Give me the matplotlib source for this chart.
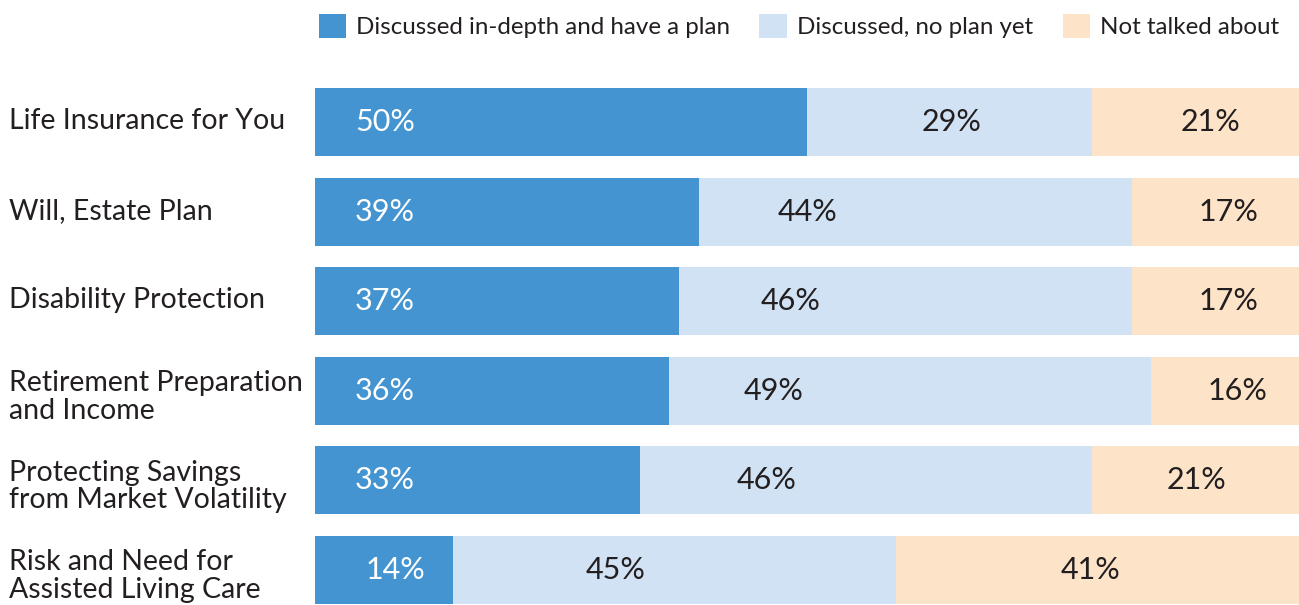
import numpy as np
import matplotlib.pyplot as plt
from matplotlib.patches import Patch

plt.rcParams['font.family'] = ['Lato', 'DejaVu Sans']

categories = ["Life Insurance for You",
              "Will, Estate Plan",
              "Disability Protection",
              "Retirement Preparation\nand Income",
              "Protecting Savings\nfrom Market Volatility",
              "Risk and Need for\nAssisted Living Care"]
series_names = ["Discussed in-depth and have a plan",
                "Discussed, no plan yet",
                "Not talked about"]
plan = [50, 39, 37, 36, 33, 14]
no_plan = [29, 44, 46, 49, 46, 45]
not_talked = [21, 17, 17, 16, 21, 41]

colors = ["#4394d0", "#d0e2f3", "#fde4c9"]
text_colors = ["white", "#231f20", "#231f20"]

# where each percentage label sits along the bar (x units)
label_x = [[7.1, 7.1, 7.1, 7.1, 7.1, 8.2],
           [64.7, 50.1, 48.3, 46.6, 45.9, 30.5],
           [91.0, 92.8, 92.8, 93.8, 89.6, 78.8]]

fig = plt.figure(figsize=(12.99, 6.05), dpi=100)
ax = fig.add_axes([315/1299, 1/605, 984/1299, 516/605])

y = np.arange(len(categories))
left = np.zeros(len(categories))
for k, vals in enumerate([plan, no_plan, not_talked]):
    ax.barh(y, vals, left=left, height=0.76, color=colors[k], linewidth=0)
    for i, v in enumerate(vals):
        ax.text(label_x[k][i], y[i], f"{v}%", ha="center", va="center",
                fontsize=22, color=text_colors[k])
    left += np.array(vals)

ax.set_xlim(0, 100)
ax.set_ylim(len(categories) - 1 + 0.38, -0.38)
ax.axis("off")

for i, c in enumerate(categories):
    dy = 0.07 if "\n" in c else -0.01
    ax.text(-306/9.84, y[i] + dy, c, ha="left", va="center", fontsize=20.5,
            color="#231f20", linespacing=1.08)

handles = [Patch(facecolor=colors[k], edgecolor="none") for k in range(3)]
fig.legend(handles, series_names, loc="upper left", bbox_to_anchor=(298/1299, 1.01),
           ncol=3, frameon=False, fontsize=17.4, handlelength=1.12, handleheight=1.12,
           handletextpad=0.45, columnspacing=1.2, borderpad=0.35, labelcolor="#231f20")

fig.savefig("out.png", dpi=100)
